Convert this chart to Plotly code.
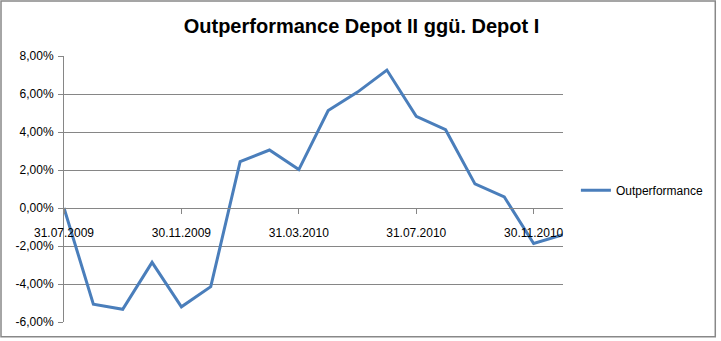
import plotly.graph_objects as go

# ---- data ----
dates = ["31.07.2009", "31.08.2009", "30.09.2009", "31.10.2009", "30.11.2009", "31.12.2009",
         "31.01.2010", "28.02.2010", "31.03.2010", "30.04.2010", "31.05.2010", "30.06.2010",
         "31.07.2010", "31.08.2010", "30.09.2010", "31.10.2010", "30.11.2010", "31.12.2010"]
outperformance = [0.0, -5.06, -5.33, -2.86, -5.2, -4.14,
                  2.44, 3.05, 2.02, 5.13, 6.1, 7.26,
                  4.82, 4.12, 1.27, 0.58, -1.87, -1.40]
x_tick_labels = dates[::4]
y_tick_values = [-6, -4, -2, 0, 2, 4, 6, 8]
y_tick_labels = ["-6,00%", "-4,00%", "-2,00%", "0,00%", "2,00%", "4,00%", "6,00%", "8,00%"]
series_name = "Outperformance"
title_text = "Outperformance Depot II ggü. Depot I"

W, H = 721, 341
ML, MR, MT, MB = 64, 154, 56, 16
pw, ph = W - ML - MR, H - MT - MB
ymin, ymax = -6, 8
grid = "#868686"

fig = go.Figure()
fig.add_trace(go.Scatter(
    x=dates, y=outperformance, mode="lines", name=series_name,
    line=dict(color="#4A7EBB", width=3), showlegend=True,
))

fig.update_layout(
    width=W, height=H,
    margin=dict(l=ML, r=MR, t=MT, b=MB),
    paper_bgcolor="white", plot_bgcolor="white",
    font=dict(family="Liberation Sans, Arial, sans-serif", size=12, color="#000000"),
    title=dict(text=title_text, x=(173 + 550) / 2 / W, xanchor="center",
               y=1 - 25.5 / H, yanchor="middle", yref="container",
               font=dict(size=20, family="Liberation Sans, Arial, sans-serif", color="#000000", weight="bold")),
    xaxis=dict(
        type="category", range=[0, len(dates) - 1],
        tickmode="array", tickvals=x_tick_labels, ticktext=x_tick_labels,
        anchor="free", position=(0 - ymin) / (ymax - ymin),
        showline=True, linecolor=grid, linewidth=1,
        ticks="outside", ticklen=5, tickcolor=grid,
        showgrid=False, zeroline=False, tickangle=0,
        ticklabelstandoff=9,
        tickfont=dict(size=12),
    ),
    yaxis=dict(
        range=[ymin, ymax], tickmode="array", tickvals=y_tick_values, ticktext=y_tick_labels,
        showline=True, linecolor=grid, linewidth=1,
        ticks="outside", ticklen=5, tickcolor=grid,
        showgrid=True, gridcolor=grid, gridwidth=1, zeroline=False,
        ticklabelstandoff=2,
        tickfont=dict(size=12),
    ),
    legend=dict(x=(580 - ML) / pw, xanchor="left", y=0.5 - (191.7 - (MT + ph / 2)) / ph, yanchor="middle",
                font=dict(size=12), itemwidth=30, bgcolor="rgba(0,0,0,0)"),
    shapes=[dict(type="rect", xref="paper", yref="paper",
                 x0=(0.5 - ML) / pw, x1=(W - 0.5 - ML) / pw,
                 y0=-(MB - 1) / ph, y1=(H - MB - 0.5) / ph,
                 line=dict(color="#888888", width=1.5), fillcolor="rgba(0,0,0,0)", layer="above")],
)

fig.write_html("out.html")
